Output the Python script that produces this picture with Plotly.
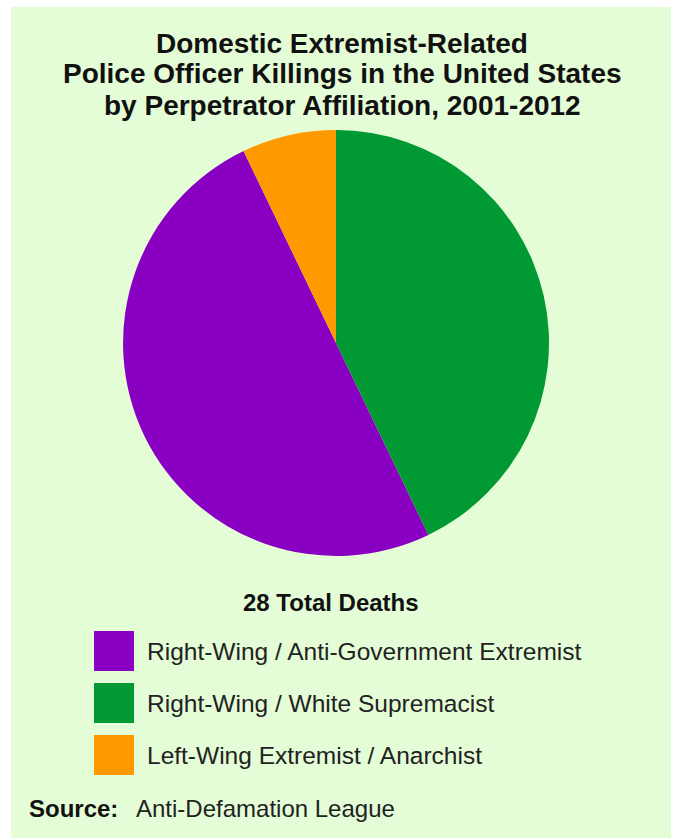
import plotly.graph_objects as go

W, H = 678, 838

title_lines = ["Domestic Extremist-Related",
               "Police Officer Killings in the United States",
               "by Perpetrator Affiliation, 2001-2012"]
categories = ["Right-Wing / Anti-Government Extremist",
              "Right-Wing / White Supremacist",
              "Left-Wing Extremist / Anarchist"]
deaths = [14, 12, 2]
colors = ["#8a00c2", "#009933", "#ff9900"]
total_label = f"{sum(deaths)} Total Deaths"
source_label = "Source:"
source_text = "Anti-Defamation League"

BG = "#e4fdd6"
FONT = "Liberation Sans, Arial, sans-serif"

def px(x):
    return x / W

def py(y):
    return 1 - y / H

fig = go.Figure()
fig.add_trace(go.Pie(
    labels=categories,
    values=deaths,
    marker=dict(colors=colors, line=dict(width=0)),
    sort=False,
    direction="counterclockwise",
    rotation=360 * deaths[1] / sum(deaths),
    textinfo="none",
    showlegend=False,
    domain=dict(x=[px(123), px(549)], y=[py(556), py(130)]),
))

shapes = [
    dict(type="rect", xref="paper", yref="paper", x0=0, x1=px(11), y0=0, y1=1,
         fillcolor="white", line=dict(width=0)),
    dict(type="rect", xref="paper", yref="paper", x0=px(671), x1=1, y0=0, y1=1,
         fillcolor="white", line=dict(width=0)),
    dict(type="rect", xref="paper", yref="paper", x0=0, x1=1, y0=py(7), y1=1,
         fillcolor="white", line=dict(width=0)),
]
annotations = []
for i, line in enumerate(title_lines):
    annotations.append(dict(text=f"<b>{line}</b>", x=px(342), y=py(43 + 31 * i),
                            xref="paper", yref="paper", showarrow=False,
                            xanchor="center", yanchor="middle",
                            font=dict(family=FONT, size=28, color="#111")))
annotations.append(dict(text=f"<b>{total_label}</b>", x=px(331), y=py(602),
                        xref="paper", yref="paper", showarrow=False,
                        xanchor="center", yanchor="middle",
                        font=dict(family=FONT, size=24, color="#111")))
for i, (cat, col) in enumerate(zip(categories, colors)):
    cy = 651 + 52 * i
    shapes.append(dict(type="rect", xref="paper", yref="paper",
                       x0=px(94), x1=px(134), y0=py(cy + 20), y1=py(cy - 20),
                       fillcolor=col, line=dict(width=0)))
    annotations.append(dict(text=cat, x=px(145), y=py(cy), xref="paper", yref="paper",
                            showarrow=False, xanchor="left", yanchor="middle",
                            font=dict(family=FONT, size=24.5, color="#222")))
annotations.append(dict(text=f"<b>{source_label}</b>", x=px(27), y=py(808),
                        xref="paper", yref="paper", showarrow=False,
                        xanchor="left", yanchor="middle",
                        font=dict(family=FONT, size=24, color="#111")))
annotations.append(dict(text=source_text, x=px(134), y=py(808),
                        xref="paper", yref="paper", showarrow=False,
                        xanchor="left", yanchor="middle",
                        font=dict(family=FONT, size=24, color="#222")))

fig.update_layout(
    width=W, height=H,
    margin=dict(l=0, r=0, t=0, b=0),
    paper_bgcolor=BG, plot_bgcolor=BG,
    shapes=shapes, annotations=annotations,
    showlegend=False,
)
fig.write_html("out.html", config={"displayModeBar": False},
               post_script="document.body.style.margin='0';document.body.style.overflow='hidden';")
